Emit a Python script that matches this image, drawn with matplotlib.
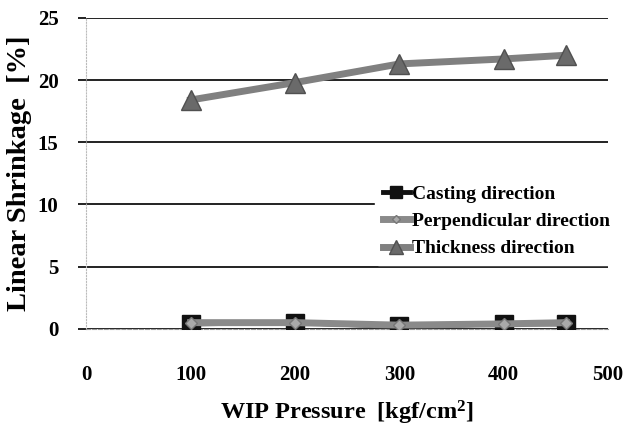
import matplotlib
matplotlib.use("Agg")
import matplotlib.pyplot as plt

pressure = [100, 200, 300, 400, 460]
casting = [0.4, 0.5, 0.2, 0.4, 0.4]
perpendicular = [0.5, 0.5, 0.3, 0.4, 0.5]
thickness = [18.4, 19.8, 21.3, 21.7, 22.0]
x_ticks = [0, 100, 200, 300, 400, 500]
y_ticks = [0, 5, 10, 15, 20, 25]

plt.rcParams['font.family'] = ['Liberation Serif', 'DejaVu Serif']
plt.rcParams['font.weight'] = 'bold'
plt.rcParams['mathtext.fontset'] = 'custom'
plt.rcParams['mathtext.bf'] = 'Liberation Serif:bold'
plt.rcParams['mathtext.rm'] = 'Liberation Serif:bold'

fig = plt.figure(figsize=(6.25, 4.26), dpi=100)
ax = fig.add_axes([0.138, 0.228, 0.835, 0.73])

ax.plot(pressure, casting, color='#111111', lw=3.5, marker='s', ms=13,
        mfc='#111111', mec='#111111', label='Casting direction', zorder=3)
ax.plot(pressure, perpendicular, color='#8a8a8a', lw=5, marker='D', ms=6,
        mfc='#aaaaaa', mec='#777777', label='Perpendicular direction', zorder=4)
ax.plot(pressure, thickness, color='#808080', lw=5, marker='^', ms=14,
        mfc='#6a6a6a', mec='#505050', label='Thickness direction', zorder=3)

ax.set_xlim(0, 500)
ax.set_ylim(0, 25)
ax.set_xticks(x_ticks)
ax.set_yticks(y_ticks)
ax.yaxis.grid(True, color='#111111', lw=1.3)
ax.set_axisbelow(True)
for s in ['top', 'right']:
    ax.spines[s].set_visible(False)
ax.spines['left'].set_color('#bbbbbb')
ax.spines['left'].set_linestyle(':')
ax.spines['bottom'].set_color('#999999')
ax.spines['bottom'].set_linestyle('--')
ax.spines['bottom'].set_linewidth(0.8)
ax.tick_params(axis='y', direction='out', length=6, width=1.3, color='#111111',
               labelsize=15, pad=14)
ax.tick_params(axis='x', length=0, labelsize=15, pad=26)
for lab in ax.get_xticklabels() + ax.get_yticklabels():
    lab.set_fontweight('bold')

ax.set_xlabel('WIP Pressure  [kgf/cm$\\mathbf{^2}$]', fontsize=17.5, fontweight='bold', labelpad=10)
ax.set_ylabel('Linear Shrinkage  [%]', fontsize=20.5, fontweight='bold', labelpad=4)

leg = ax.legend(loc='upper left', bbox_to_anchor=(0.553, 0.487), frameon=True,
                facecolor='white', edgecolor='white', framealpha=1,
                fontsize=14, handlelength=1.4, handletextpad=0.1,
                borderpad=0.4, labelspacing=0.5, markerscale=0.7,
                borderaxespad=0)
for t in leg.get_texts():
    t.set_fontweight('bold')

fig.savefig('out.png', dpi=100)
